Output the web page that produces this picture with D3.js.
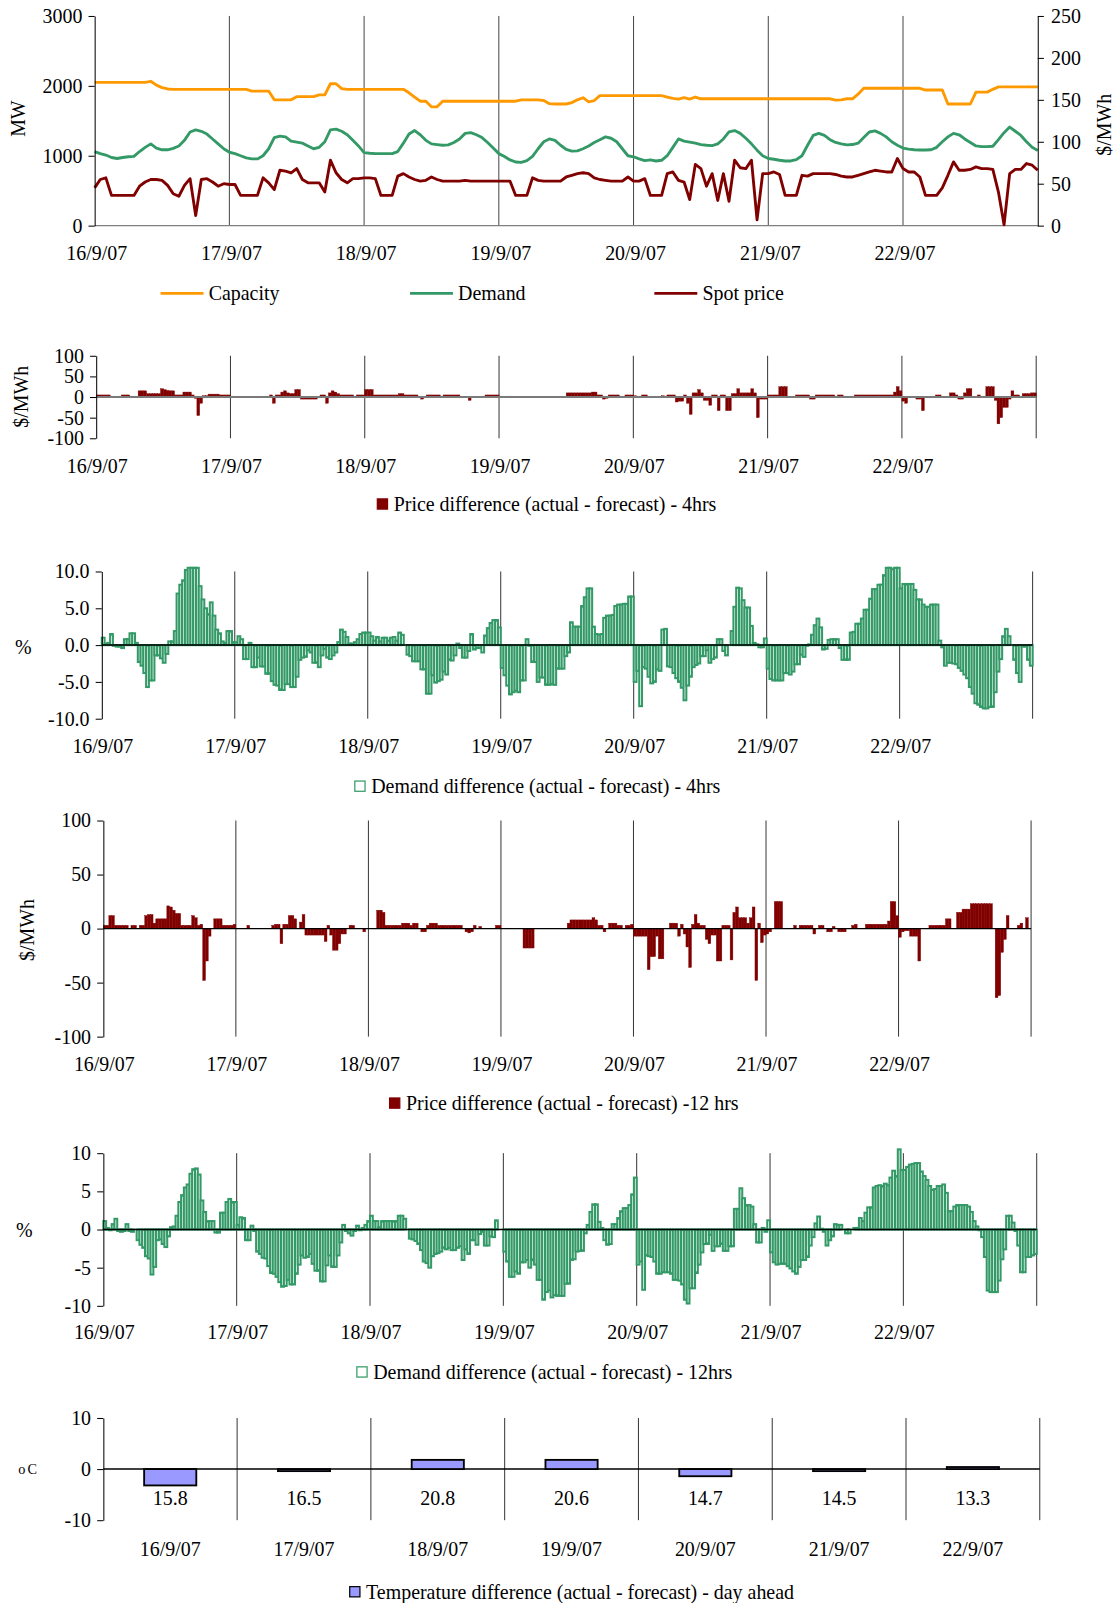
<!DOCTYPE html>
<html><head><meta charset="utf-8">
<script src="https://cdn.jsdelivr.net/npm/d3@7"></script>
<style>
html,body{margin:0;padding:0;background:#fff;}
svg{display:block;}
svg text{font-family:"Liberation Serif","Times New Roman",serif !important;fill:#000;}
</style></head><body>
<svg id="c" width="1115" height="1603" viewBox="0 0 1090.5 1568"></svg>
<script>
// ---------------- DATA ----------------
const dates = ["16/9/07","17/9/07","18/9/07","19/9/07","20/9/07","21/9/07","22/9/07"];
const leftTicksMW = [0,1000,2000,3000];
const rightTicksPrice = [0,50,100,150,200,250];
const priceDiffTicks = [-100,-50,0,50,100];
const demandDiffTicks4 = [-10,-5,0,5,10];
const demandDiffTicks12 = [-10,-5,0,5,10];
const tempTicks = [-10,0,10];

// hourly values (24 per day) + final point
const capacityMW = [
2050,2050,2050,2050,2050,2050,2050,2050,2050,2050,2065,2010,1975,1955,1950,1950,1950,1950,1950,1950,1950,1950,1950,1950,
1950,1950,1950,1950,1925,1925,1925,1925,1800,1800,1800,1800,1845,1845,1845,1845,1870,1870,2030,2030,1960,1950,1950,1950,
1950,1950,1950,1950,1950,1950,1950,1950,1900,1840,1780,1780,1700,1700,1780,1780,1780,1780,1780,1780,1780,1780,1780,1780,
1780,1780,1780,1780,1800,1800,1800,1800,1790,1745,1740,1740,1740,1760,1800,1830,1770,1790,1860,1860,1860,1860,1860,1860,
1860,1860,1860,1860,1860,1860,1840,1820,1810,1830,1810,1840,1815,1815,1815,1815,1815,1815,1815,1815,1815,1815,1815,1815,
1815,1815,1815,1815,1815,1815,1815,1815,1815,1815,1815,1815,1795,1800,1815,1815,1880,1965,1965,1965,1965,1965,1965,1965,
1965,1965,1965,1965,1940,1940,1940,1940,1740,1740,1740,1740,1740,1910,1910,1910,1950,1985,1985,1985,1985,1985,1985,1985,
1985];
const demandMW = [
1060,1030,1010,975,960,975,985,990,1060,1120,1170,1110,1085,1085,1105,1140,1220,1340,1370,1350,1310,1240,1170,1100,
1050,1030,1000,970,955,955,1000,1100,1260,1280,1270,1210,1195,1180,1140,1100,1120,1200,1370,1380,1350,1300,1220,1140,
1045,1035,1030,1030,1030,1030,1060,1180,1310,1360,1300,1220,1170,1160,1150,1155,1190,1240,1320,1330,1300,1260,1190,1110,
1030,990,940,910,905,930,990,1100,1200,1240,1220,1150,1090,1065,1070,1100,1140,1190,1230,1270,1250,1200,1100,1000,
985,955,930,940,925,935,1000,1120,1240,1210,1195,1180,1160,1150,1145,1170,1240,1340,1360,1320,1250,1170,1080,1000,
960,950,935,925,925,945,1000,1150,1290,1320,1290,1230,1190,1170,1155,1160,1180,1260,1340,1355,1320,1270,1200,1150,
1110,1095,1085,1082,1082,1085,1120,1200,1270,1320,1300,1240,1190,1140,1130,1130,1135,1230,1330,1410,1350,1290,1200,1120,
1075];
const spotPrice = [
45,55,57,36,36,36,36,36,47,52,55,55,54,48,38,35,48,56,12,55,56,52,47,50,
49,49,36,36,36,36,57,51,43,66,65,63,68,55,51,51,51,40,78,63,55,51,56,56,
57,57,56,36,36,36,59,62,58,55,53,54,58,55,53,53,53,53,54,53,53,53,53,53,
53,53,53,36,36,36,57,54,53,53,53,53,58,60,62,63,62,57,55,54,53,53,53,58,
53,53,56,36,36,36,62,64,54,52,31,73,68,47,62,30,62,29,78,69,68,78,7,62,
62,64,61,36,36,36,60,59,62,62,62,62,61,59,58,58,60,62,64,66,65,64,64,80,
68,64,64,58,36,36,36,45,60,76,66,66,67,70,68,68,67,40,1,62,67,67,74,72,
66];

// half-hourly values (48 per day)
const priceDiff4h = [
5,5,5,5,5,0,0,0,0,5,5,5,0,0,0,15,15,15,8,8,8,8,8,20,18,16,15,15,5,5,5,12,12,12,5,-3,-45,-15,3,3,7,7,7,7,5,5,5,5,
0,0,0,0,0,0,0,0,0,0,0,0,0,0,5,-15,5,5,12,15,10,8,8,18,18,-5,-5,-5,-5,-5,-5,0,5,5,-15,10,15,12,8,5,5,5,5,5,0,5,5,5,
18,18,18,5,5,5,5,5,5,5,5,5,8,8,5,5,5,5,5,0,-5,0,5,5,5,5,5,0,5,5,5,5,5,5,0,0,0,-8,0,0,0,0,0,5,5,5,5,5,
0,0,0,0,0,0,0,0,0,0,0,0,0,0,0,0,0,0,0,0,0,0,0,0,10,10,10,10,10,10,10,10,10,12,12,5,5,-5,-3,5,5,5,5,0,0,5,5,5,
3,0,0,5,5,0,0,0,0,0,3,0,5,5,5,-12,-10,-10,5,-15,-42,10,10,18,10,-8,-8,-20,5,5,-33,5,5,-33,-33,8,8,20,10,10,10,10,20,10,-50,-5,-5,-5,
5,5,5,5,25,25,25,0,0,0,5,5,5,5,5,-5,-5,5,5,5,5,5,5,5,0,5,5,0,0,0,0,5,5,5,5,5,5,5,5,5,5,5,5,5,5,12,25,15,
-10,-15,0,0,0,-5,-5,-33,0,0,0,0,5,5,0,0,0,10,10,5,-5,-5,10,20,20,0,0,5,0,0,25,25,25,-8,-65,-50,-25,-25,-5,15,5,5,0,8,8,8,10,10];
const demandDiff4h = [
1.0,0.2,0.3,1.5,-0.1,-0.2,-0.2,-0.4,0.8,0.8,1.6,1.6,0.3,-2.3,-2.8,-3.8,-5.7,-4.8,-4.8,-1.4,-1.4,-1.8,-2.4,-1.2,0.5,0.5,1.9,7.0,8.2,8.8,10.2,10.5,10.5,10.5,10.5,8.0,6.2,5.0,4.2,5.8,4.0,2.1,1.6,0.5,0.3,1.9,1.9,0.4,
0.4,1.2,0.8,-1.9,-1.9,0.3,-3.0,-3.0,-1.7,-2.9,-2.9,-3.9,-3.9,-4.9,-5.4,-5.5,-6.1,-6.1,-5.3,-5.3,-5.7,-5.7,-4.3,-2.0,-1.7,-1.6,-0.7,-1.0,-2.4,-2.4,-3.0,-1.4,-0.5,-1.7,-1.9,-1.4,-1.0,0.4,2.1,1.8,1.1,0.2,0.2,0.4,0.8,1.5,1.7,1.7,
1.7,1.2,0.6,1.1,0.5,1.0,1.0,0.6,1.0,1.1,0.6,1.7,1.4,0.0,-1.3,-1.5,-2.2,-2.2,-2.2,-3.3,-3.3,-6.6,-6.6,-4.1,-5.1,-4.9,-4.7,-3.6,-4.0,-2.0,-2.1,-1.4,0.2,-0.4,-1.7,-1.7,-0.8,1.5,-0.6,-0.4,-0.4,-1.0,1.3,2.3,3.0,3.4,3.4,2.4,
-3.1,-4.1,-5.5,-6.7,-6.4,-6.2,-6.4,-4.8,-4.8,0.8,-0.1,-2.3,-2.3,-5.0,-4.4,-4.4,-5.4,-5.4,-5.3,-5.4,-3.2,-3.2,-3.2,-1.5,-1.0,3.1,2.5,2.5,2.5,5.3,6.5,7.7,7.7,2.5,1.5,1.4,1.5,3.7,4.0,4.0,4.1,5.3,5.5,5.5,5.6,5.6,6.6,6.6,
-5.0,-3.5,-8.3,-3.0,-3.2,-4.3,-5.2,-5.0,-3.3,-3.5,2.1,2.2,-2.9,-3.0,-3.8,-4.5,-5.0,-5.8,-7.5,-5.5,-4.3,-3.0,-2.7,-2.5,-1.5,-1.5,-0.7,-2.4,-1.9,-1.7,0.8,0.8,-0.8,-1.4,0.0,1.9,5.2,7.8,7.7,6.1,5.1,5.1,2.6,0.3,0.1,-0.3,-0.3,0.9,
-3.2,-4.6,-4.8,-4.8,-4.8,-4.8,-3.8,-3.8,-4.0,-3.6,-2.6,-2.6,-1.3,-1.6,-0.1,0.1,1.4,2.7,3.6,2.4,-0.6,-0.5,0.7,0.8,0.8,0.8,-0.4,-2.0,-2.0,-2.0,1.7,1.8,2.9,2.9,3.6,4.8,4.8,6.3,7.6,7.6,8.2,8.2,9.5,10.5,10.5,10.3,10.5,10.5,
7.7,8.3,8.3,8.3,8.3,7.5,6.2,6.2,5.5,5.2,5.2,5.5,5.5,5.5,0.6,-0.3,-2.8,-2.4,-2.4,-2.5,-2.6,-3.1,-3.5,-4.0,-4.5,-5.7,-6.6,-7.9,-8.1,-8.4,-8.6,-8.6,-8.4,-8.4,-6.4,-3.6,-1.9,1.2,2.2,1.2,0.0,-2.0,-3.8,-5.0,-0.2,-0.2,-2.0,-2.8];
const priceDiff12h = [
3,3,12,12,3,3,3,3,3,0,3,3,0,3,3,12,13,13,5,9,9,9,9,21,20,17,14,14,3,3,3,3,12,10,3,4,-48,-30,-7,0,9,9,9,3,3,3,3,4,
0,0,0,0,3,0,0,0,0,0,0,0,0,3,4,4,-14,4,4,12,12,9,0,6,13,-6,-6,-6,-6,-6,-6,-6,-12,3,-6,-20,-20,-14,-5,-5,0,3,3,0,0,0,-3,0,
0,0,0,17,17,15,3,3,3,3,3,3,5,5,5,3,5,5,0,-3,-3,3,5,5,5,3,3,3,3,3,3,3,3,3,0,-3,-4,-3,3,0,2,0,0,0,0,0,3,3,
0,0,0,0,0,0,0,0,-18,-18,-18,-18,0,0,0,0,0,0,0,0,0,0,0,0,5,8,8,8,8,8,8,8,8,10,8,3,3,-3,0,5,5,5,3,3,0,3,3,4,
-7,-7,-7,-7,-7,-38,-26,-26,-7,-28,-28,0,0,5,5,5,-7,4,-5,-17,-36,4,13,5,3,3,-10,-14,-6,-6,-30,-30,3,3,3,-29,15,20,10,10,10,5,10,20,-48,5,-13,-6,
-5,-3,0,25,25,25,0,0,0,0,3,0,3,3,3,3,3,-5,0,3,3,0,-3,-3,2,0,-3,-3,-3,0,0,3,4,0,0,0,4,4,4,4,4,4,4,4,7,25,25,12,
-8,-3,-2,-2,-7,-7,-7,-30,0,0,0,3,3,3,3,3,3,9,9,0,0,15,15,18,18,18,23,23,23,23,23,23,23,23,0,-64,-62,-22,-10,12,0,0,0,3,5,0,10,0];
const demandDiff12h = [
1.1,0.2,-0.1,0.7,1.4,-0.2,-0.3,-0.2,0.7,-0.2,-0.3,0.0,-1.4,-2.0,-2.4,-3.5,-3.8,-5.9,-4.9,-1.4,-1.3,-1.9,-2.3,-0.9,0.3,0.4,1.8,3.6,4.5,5.5,5.9,7.3,7.9,8.0,7.2,3.8,2.3,1.1,1.1,1.1,-0.4,-0.4,2.2,2.2,3.6,4.0,3.6,3.6,
0.6,1.6,1.5,-1.4,-1.4,0.5,-0.2,-2.9,-3.2,-3.7,-3.8,-4.8,-5.7,-5.8,-6.2,-6.9,-7.5,-7.4,-6.6,-7.2,-7.2,-5.8,-4.6,-3.4,-3.7,-3.6,-3.2,-4.5,-5.4,-5.4,-6.8,-6.8,-4.7,-3.4,-4.9,-4.9,-3.4,-1.7,0.6,-0.2,-0.5,-0.8,-0.2,0.5,-0.1,0.2,0.6,1.1,
1.8,1.1,1.1,0.3,1.1,1.1,1.1,1.1,1.1,1.1,1.8,1.8,1.4,0.0,-1.2,-1.3,-1.5,-1.9,-2.7,-4.2,-4.4,-5.0,-3.5,-3.2,-3.1,-2.9,-2.4,-2.6,-2.4,-2.7,-2.7,-2.4,-2.2,-4.0,-2.6,-3.2,-1.4,-1.4,-2.0,-0.6,-0.3,-2.1,-2.1,-0.9,-1.0,1.2,0.0,0.0,
-2.9,-4.2,-6.2,-6.2,-5.5,-5.8,-4.3,-4.3,-4.0,-5.0,-4.0,-4.6,-6.6,-6.6,-9.2,-8.2,-8.0,-8.9,-8.6,-8.7,-8.7,-8.7,-7.1,-7.1,-4.0,-3.9,-2.9,-2.8,-2.8,-0.5,0.6,2.3,3.3,3.3,1.0,0.2,-1.4,-2.0,-1.9,0.7,0.7,1.5,2.4,2.8,2.8,3.2,4.6,6.8,
-4.6,-4.2,-7.9,-3.4,-3.5,-3.6,-4.2,-5.8,-5.8,-5.6,-5.6,-5.6,-5.8,-6.6,-6.6,-6.7,-7.2,-9.2,-9.7,-7.7,-7.7,-5.7,-4.6,-3.0,-1.9,-1.9,-0.7,-2.8,-2.2,-2.2,-1.9,-2.8,-2.8,-2.2,-2.2,2.7,2.7,5.4,4.1,3.2,3.2,3.0,0.7,-1.7,-1.7,0.2,-0.3,1.2,
-3.0,-4.3,-4.6,-4.5,-4.5,-4.5,-4.8,-5.1,-5.5,-5.8,-4.9,-4.0,-4.0,-3.6,-2.1,-1.0,0.8,1.7,0.1,-0.3,-2.1,-1.4,-0.9,0.7,0.6,0.6,0.0,-0.5,-0.5,0.0,0.2,0.2,1.5,1.1,2.2,2.9,2.9,5.5,5.7,5.8,5.7,6.0,5.8,6.8,7.7,7.0,10.5,7.8,
7.8,8.2,8.5,8.6,8.7,8.7,7.6,7.0,6.5,5.7,5.2,5.3,5.7,5.7,5.9,4.8,2.4,2.4,3.0,3.2,3.2,3.2,3.2,3.0,2.3,1.1,0.4,-0.1,-1.0,-3.6,-8.0,-8.2,-8.2,-8.2,-6.7,-3.9,-2.6,1.8,1.8,0.9,-0.2,-2.1,-5.6,-5.6,-3.6,-3.6,-3.4,-3.2];
const tempDiff = [-3.2,-0.4,1.8,1.8,-1.4,-0.4,0.4];
const tempActual = ["15.8","16.5","20.8","20.6","14.7","14.5","13.3"];

// ---------------- DRAWING ----------------
const FS = 19.5;
const FONT = "'Liberation Serif', 'Times New Roman', serif";
const svg = d3.select("#c");
const fmtTick = d => String(d);
const fmt1 = d => d.toFixed(1);

function styleAxis(sel){
  sel.attr("font-size",FS).attr("font-family",FONT);
  sel.selectAll("path.domain").attr("stroke","#000").attr("stroke-width",1);
  sel.selectAll(".tick line").attr("stroke","#000").attr("stroke-width",1);
}

// ---- Panel 1 ----
(function(){
  const P = {x0:92.5, x1:1015, yT:15.6, yB:220.7};
  const g = svg.append("g");
  const x = d3.scaleLinear().domain([0,168]).range([P.x0,P.x1]);
  const yL = d3.scaleLinear().domain([0,3000]).range([P.yB,P.yT]);
  const yR = d3.scaleLinear().domain([0,250]).range([P.yB,P.yT]);
  g.selectAll("line.grid").data(d3.range(1,7)).join("line")
    .attr("x1",d=>x(d*24)).attr("x2",d=>x(d*24)).attr("y1",P.yT).attr("y2",P.yB)
    .attr("stroke","#333").attr("stroke-width",0.9);
  g.append("line").attr("x1",P.x0).attr("x2",P.x1).attr("y1",P.yB).attr("y2",P.yB)
    .attr("stroke","#808080").attr("stroke-width",1.2);
  const lineL = d3.line().x((d,i)=>x(i)).y(d=>yL(d));
  const lineR = d3.line().x((d,i)=>x(i)).y(d=>yR(d));
  g.append("path").attr("d",lineL(capacityMW)).attr("fill","none").attr("stroke","#FF9900").attr("stroke-width",2.8).attr("stroke-linejoin","round");
  g.append("path").attr("d",lineL(demandMW)).attr("fill","none").attr("stroke","#339966").attr("stroke-width",2.8).attr("stroke-linejoin","round");
  g.append("path").attr("d",lineR(spotPrice)).attr("fill","none").attr("stroke","#800000").attr("stroke-width",2.8).attr("stroke-linejoin","round");
  const aL = g.append("g").attr("transform",`translate(${P.x0},0)`)
    .call(d3.axisLeft(yL).tickValues(leftTicksMW).tickSize(6).tickSizeOuter(0).tickPadding(6).tickFormat(fmtTick));
  styleAxis(aL);
  const aR = g.append("g").attr("transform",`translate(${P.x1},0)`)
    .call(d3.axisRight(yR).tickValues(rightTicksPrice).tickSize(6).tickSizeOuter(0).tickPadding(7).tickFormat(fmtTick));
  styleAxis(aR);
  g.selectAll("text.dl").data(dates).join("text").attr("class","dl")
    .attr("x",(d,i)=>x(i*24)+2).attr("y",247.7).attr("text-anchor","middle")
    .attr("dominant-baseline","central").attr("font-size",FS).text(d=>d);
  g.append("text").attr("transform","translate(17.5,116) rotate(-90)").attr("text-anchor","middle")
    .attr("dominant-baseline","central").attr("font-size",FS).text("MW");
  g.append("text").attr("transform","translate(1080,122) rotate(-90)").attr("text-anchor","middle")
    .attr("dominant-baseline","central").attr("font-size",FS).text("$/MWh");
  const leg = [{t:"Capacity",c:"#FF9900",x:157,tx:204},{t:"Demand",c:"#339966",x:401,tx:448},{t:"Spot price",c:"#800000",x:640,tx:687}];
  const lg = g.selectAll("g.leg").data(leg).join("g");
  lg.append("line").attr("x1",d=>d.x).attr("x2",d=>d.x+42).attr("y1",287).attr("y2",287)
    .attr("stroke",d=>d.c).attr("stroke-width",2.8);
  lg.append("text").attr("x",d=>d.tx).attr("y",287).attr("dominant-baseline","central")
    .attr("font-size",FS).text(d=>d.t);
})();

// ---- Bar panels ----
function barPanel(o){
  const g = svg.append("g");
  const x = d3.scaleLinear().domain([0,336]).range([o.x0,o.x1]);
  const y = d3.scaleLinear().domain(o.dom).range([o.yB,o.yT]);
  g.selectAll("line.grid").data(d3.range(1,8)).join("line")
    .attr("x1",d=>x(d*48)).attr("x2",d=>x(d*48)).attr("y1",o.yT).attr("y2",o.yB)
    .attr("stroke","#222").attr("stroke-width",0.9);
  const w = x(1)-x(0);
  const items = o.data.map((v,i)=>({v,i})).filter(d=>d.v!==0);
  g.selectAll("rect.bar").data(items).join("rect")
    .attr("x",d=>x(d.i)).attr("width",w)
    .attr("y",d=>y(Math.max(0,d.v))).attr("height",d=>Math.abs(y(d.v)-y(0)))
    .attr("fill",o.fill).attr("stroke",o.stroke).attr("stroke-width",o.sw);
  g.append("line").attr("x1",o.x0).attr("x2",o.x1).attr("y1",y(0)).attr("y2",y(0))
    .attr("stroke",o.zc).attr("stroke-width",o.zw);
  const a = g.append("g").attr("transform",`translate(${o.x0},0)`)
    .call(d3.axisLeft(y).tickValues(o.ticks).tickSize(6).tickSizeOuter(0).tickPadding(6).tickFormat(o.fmt));
  styleAxis(a);
  g.selectAll("text.dl").data(dates).join("text").attr("class","dl")
    .attr("x",(d,i)=>x(i*48)+1).attr("y",o.dateY).attr("text-anchor","middle")
    .attr("dominant-baseline","central").attr("font-size",FS).text(d=>d);
  const yl = g.append("text").attr("text-anchor","middle").attr("dominant-baseline","central")
    .attr("font-size",FS).text(o.ylab);
  if(o.rot) yl.attr("transform",`translate(${o.ylx},${o.yly}) rotate(-90)`);
  else yl.attr("x",o.ylx).attr("y",o.yly);
  g.append("rect").attr("x",o.lgx).attr("y",o.lgy-5).attr("width",10).attr("height",10)
    .attr("fill",o.lgFill).attr("stroke",o.lgStroke).attr("stroke-width",1.2);
  g.append("text").attr("x",o.lgx+16).attr("y",o.lgy).attr("dominant-baseline","central")
    .attr("font-size",FS).text(o.lgText);
}

barPanel({x0:94,x1:1013.5,yT:348,yB:428.7,dom:[-100,100],ticks:priceDiffTicks,fmt:fmtTick,
  data:priceDiff4h,fill:"#800000",stroke:"#800000",sw:0.4,zc:"#7a7a7a",zw:1.8,dateY:455.4,
  ylab:"$/MWh",rot:true,ylx:20.8,yly:388,lgx:369,lgy:493,lgFill:"#800000",lgStroke:"#800000",
  lgText:"Price difference (actual - forecast) - 4hrs"});

barPanel({x0:99.5,x1:1010,yT:559,yB:703,dom:[-10,10],ticks:demandDiffTicks4,fmt:fmt1,
  data:demandDiff4h,fill:"#ffffff",stroke:"#339966",sw:2.0,zc:"#000",zw:1.5,dateY:730,
  ylab:"%",rot:false,ylx:22.7,yly:633,lgx:347,lgy:769,lgFill:"#ffffff",lgStroke:"#339966",
  lgText:"Demand difference (actual - forecast) - 4hrs"});

barPanel({x0:101,x1:1008.5,yT:802.6,yB:1014,dom:[-100,100],ticks:[-100,-50,0,50,100],fmt:fmtTick,
  data:priceDiff12h,fill:"#800000",stroke:"#800000",sw:0.4,zc:"#000",zw:1.3,dateY:1040.6,
  ylab:"$/MWh",rot:true,ylx:26.2,yly:909.6,lgx:381,lgy:1079,lgFill:"#800000",lgStroke:"#800000",
  lgText:"Price difference (actual - forecast) -12 hrs"});

barPanel({x0:101,x1:1014,yT:1128,yB:1277.3,dom:[-10,10],ticks:demandDiffTicks12,fmt:fmtTick,
  data:demandDiff12h,fill:"#ffffff",stroke:"#339966",sw:2.0,zc:"#000",zw:1.5,dateY:1303.4,
  ylab:"%",rot:false,ylx:23.8,yly:1203,lgx:349,lgy:1342,lgFill:"#ffffff",lgStroke:"#339966",
  lgText:"Demand difference (actual - forecast) - 12hrs"});

// ---- Panel 6: temperature ----
(function(){
  const P = {x0:101, x1:1017, yT:1387, yB:1487};
  const g = svg.append("g");
  const x = d3.scaleBand().domain(dates).range([P.x0,P.x1]);
  const y = d3.scaleLinear().domain([-10,10]).range([P.yB,P.yT]);
  const bw = x.bandwidth();
  g.selectAll("line.grid").data(dates).join("line")
    .attr("x1",d=>x(d)+bw).attr("x2",d=>x(d)+bw).attr("y1",P.yT).attr("y2",P.yB)
    .attr("stroke","#222").attr("stroke-width",0.9);
  g.append("line").attr("x1",P.x0).attr("x2",P.x1).attr("y1",y(0)).attr("y2",y(0))
    .attr("stroke","#000").attr("stroke-width",1.5);
  g.selectAll("rect.bar").data(tempDiff).join("rect")
    .attr("x",(d,i)=>x(dates[i])+bw*0.305).attr("width",bw*0.39)
    .attr("y",d=>y(Math.max(0,d))).attr("height",d=>Math.abs(y(d)-y(0)))
    .attr("fill","#9999FF").attr("stroke","#000").attr("stroke-width",1.8);
  const a = g.append("g").attr("transform",`translate(${P.x0},0)`)
    .call(d3.axisLeft(y).tickValues(tempTicks).tickSize(6).tickSizeOuter(0).tickPadding(6).tickFormat(fmtTick));
  styleAxis(a);
  g.selectAll("text.val").data(tempActual).join("text")
    .attr("x",(d,i)=>x(dates[i])+bw/2).attr("y",1465).attr("text-anchor","middle")
    .attr("dominant-baseline","central").attr("font-size",FS).text(d=>d);
  g.selectAll("text.dl").data(dates).join("text").attr("class","dl")
    .attr("x",d=>x(d)+bw/2).attr("y",1515).attr("text-anchor","middle")
    .attr("dominant-baseline","central").attr("font-size",FS).text(d=>d);
  g.append("text").attr("x",28).attr("y",1437).attr("text-anchor","middle")
    .attr("dominant-baseline","central").attr("font-size",14).attr("letter-spacing",2).text("oC");
  g.append("rect").attr("x",342).attr("y",1552).attr("width",10).attr("height",10)
    .attr("fill","#9999FF").attr("stroke","#000").attr("stroke-width",1.2);
  g.append("text").attr("x",358).attr("y",1557).attr("dominant-baseline","central")
    .attr("font-size",FS).text("Temperature difference (actual - forecast) - day ahead");
})();

svg.selectAll("text").style("font-family", FONT).style("fill","#000");
</script></body></html>
